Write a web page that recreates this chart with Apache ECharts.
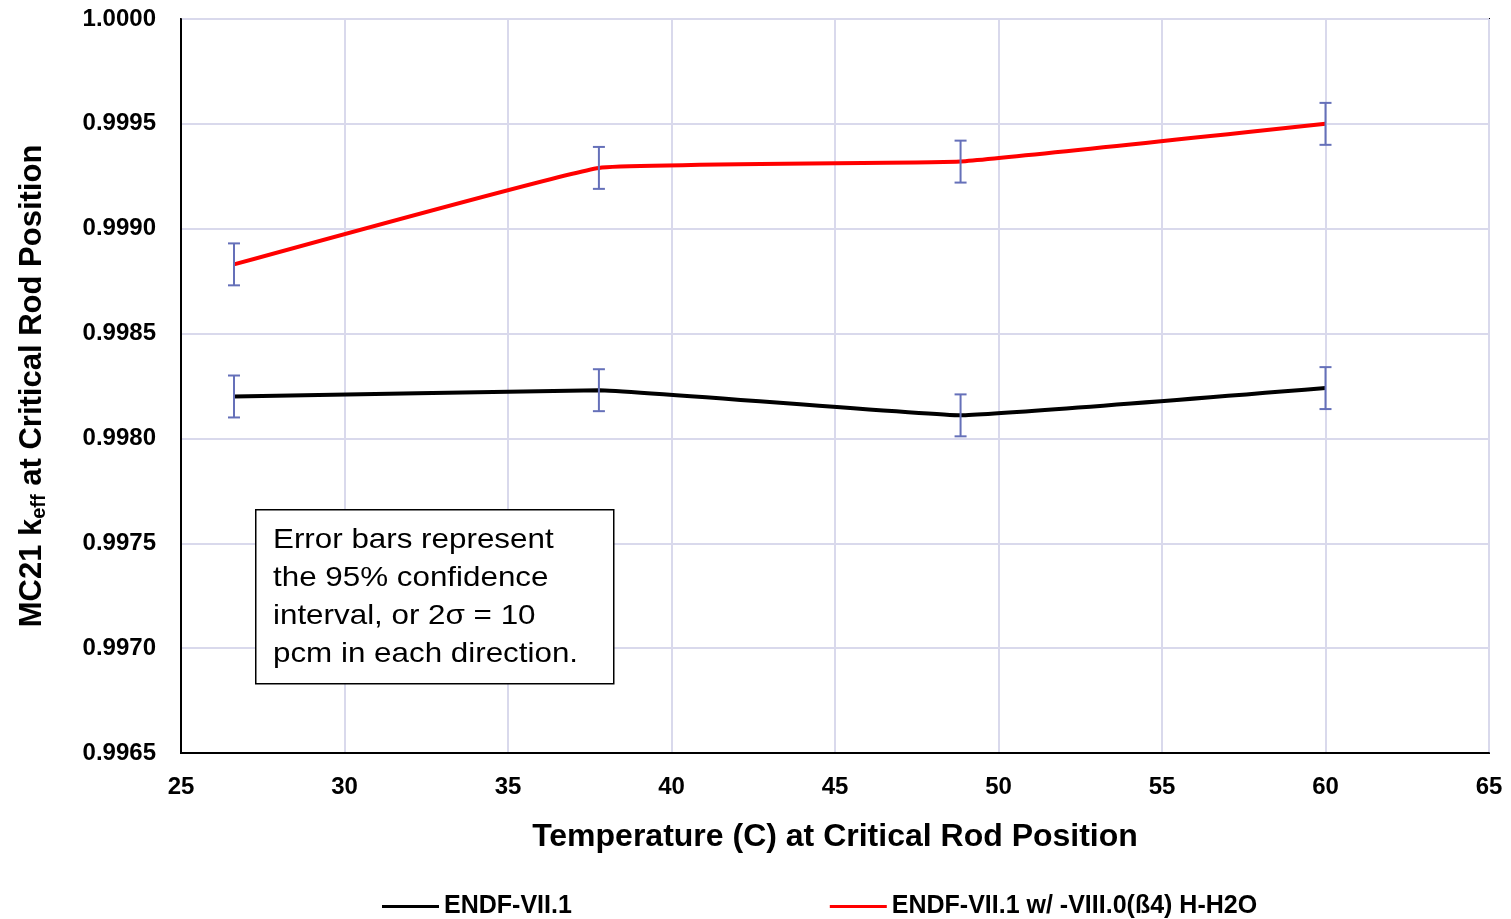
<!DOCTYPE html>
<html>
<head>
<meta charset="utf-8">
<title>MC21 keff vs Temperature</title>
<script src="https://cdn.jsdelivr.net/npm/echarts@6/dist/echarts.min.js"></script>
<style>
  html, body { margin: 0; padding: 0; background: #ffffff; }
  #chart { width: 1511px; height: 919px; }
</style>
</head>
<body>
<div id="chart"></div>
<script>
// Temperature at critical rod position (C)
const temps = [26.62, 37.78, 48.84, 60.0];
// MC21 keff with ENDF/B-VII.1
const keffEndf71 = [0.99820, 0.99823, 0.99811, 0.99824];
// MC21 keff with ENDF/B-VII.1 plus VIII.0 (beta4) H in H2O
const keffEndf80H = [0.99883, 0.99929, 0.99932, 0.99950];
// 2-sigma half width of each error bar (10 pcm)
const twoSigma = 0.00010;
// Axis tick settings
const xTicks = { min: 25, max: 65, step: 5 };
const yTicks = { min: 0.9965, max: 1.0000, step: 0.0005 };
const seriesNames = ['ENDF-VII.1', 'ENDF-VII.1 w/ -VIII.0(ß4) H-H2O'];
const noteLines = ['Error bars represent', 'the 95% confidence', 'interval, or 2σ = 10', 'pcm in each direction.'];

const font = '"Liberation Sans", Arial, Helvetica, sans-serif';
const barColor = '#6570b9';
const gridColor = '#d9d9ec';

const pairs = (ys) => temps.map((t, i) => [t, ys[i]]);
const errData = (ys) => temps.map((t, i) => [t, ys[i] - twoSigma, ys[i] + twoSigma]);

function renderErrorBar(params, api) {
  const x = api.value(0);
  const lo = api.coord([x, api.value(1)]);
  const hi = api.coord([x, api.value(2)]);
  const cap = 6;
  const style = { stroke: barColor, lineWidth: 2, fill: null };
  return {
    type: 'group',
    children: [
      { type: 'line', shape: { x1: lo[0], y1: lo[1], x2: hi[0], y2: hi[1] }, style },
      { type: 'line', shape: { x1: hi[0] - cap, y1: hi[1], x2: hi[0] + cap, y2: hi[1] }, style },
      { type: 'line', shape: { x1: lo[0] - cap, y1: lo[1], x2: lo[0] + cap, y2: lo[1] }, style }
    ]
  };
}

const chart = echarts.init(document.getElementById('chart'), null, { renderer: 'canvas' });

chart.setOption({
  backgroundColor: '#ffffff',
  animation: false,
  grid: {
    left: 181, right: 22, top: 19, bottom: 166,
    show: true, borderColor: '#000000', borderWidth: 2, backgroundColor: 'transparent'
  },
  legend: {
    data: seriesNames.map(n => ({ name: n, icon: 'rect' })),
    left: 377, top: 889,
    itemWidth: 57, itemHeight: 3, itemGap: 258,
    textStyle: { fontFamily: font, fontWeight: 'bold', fontSize: 25, color: '#000000' }
  },
  xAxis: {
    type: 'value',
    min: xTicks.min, max: xTicks.max, interval: xTicks.step,
    name: 'Temperature (C) at Critical Rod Position',
    nameLocation: 'middle', nameGap: 68,
    nameTextStyle: { fontFamily: font, fontWeight: 'bold', fontSize: 32, color: '#000000' },
    axisLine: { show: true, lineStyle: { color: '#000000', width: 2 } },
    axisTick: { show: false },
    axisLabel: { margin: 22, fontFamily: font, fontWeight: 'bold', fontSize: 24, color: '#000000' },
    splitLine: { show: true, lineStyle: { color: gridColor, width: 2 } }
  },
  yAxis: {
    type: 'value',
    min: yTicks.min, max: yTicks.max, interval: yTicks.step,
    name: '{a|MC21 k}{s|eff}{a| at Critical Rod Position}',
    nameLocation: 'middle', nameGap: 130, nameRotate: 90,
    nameTextStyle: {
      color: '#000000',
      rich: {
        a: { fontFamily: font, fontWeight: 'bold', fontSize: 31, lineHeight: 38, verticalAlign: 'middle', color: '#000000' },
        s: { fontFamily: font, fontWeight: 'bold', fontSize: 20, lineHeight: 38, verticalAlign: 'bottom', padding: [0, 0, 2, 0], color: '#000000' }
      }
    },
    axisLine: { show: true, lineStyle: { color: '#000000', width: 2 } },
    axisTick: { show: false },
    axisLabel: {
      margin: 25, fontFamily: font, fontWeight: 'bold', fontSize: 24, color: '#000000',
      formatter: v => v.toFixed(4)
    },
    splitLine: { show: true, lineStyle: { color: gridColor, width: 2 } }
  },
  series: [
    {
      name: seriesNames[0], type: 'line', data: pairs(keffEndf71),
      showSymbol: false, smooth: 0.08, color: '#000000',
      lineStyle: { color: '#000000', width: 4 }, z: 3
    },
    {
      name: seriesNames[1], type: 'line', data: pairs(keffEndf80H),
      showSymbol: false, smooth: 0.08, color: '#ff0000',
      lineStyle: { color: '#ff0000', width: 4 }, z: 3
    },
    {
      type: 'custom', name: 'err71', data: errData(keffEndf71),
      renderItem: renderErrorBar, encode: { x: 0, y: [1, 2] }, z: 4, silent: true
    },
    {
      type: 'custom', name: 'err80', data: errData(keffEndf80H),
      renderItem: renderErrorBar, encode: { x: 0, y: [1, 2] }, z: 4, silent: true
    }
  ],
  graphic: {
    elements: [
      {
        type: 'rect', left: 255, top: 509, z: 100,
        shape: { width: 358, height: 174 },
        style: { fill: '#ffffff', stroke: '#000000', lineWidth: 1.5 }
      },
      {
        type: 'text', left: 273, top: 521, z: 101, scaleX: 1.12,
        style: { text: noteLines.join('\n'), font: '28px ' + font, lineHeight: 38, fill: '#000000' }
      }
    ]
  }
});
</script>
</body>
</html>
